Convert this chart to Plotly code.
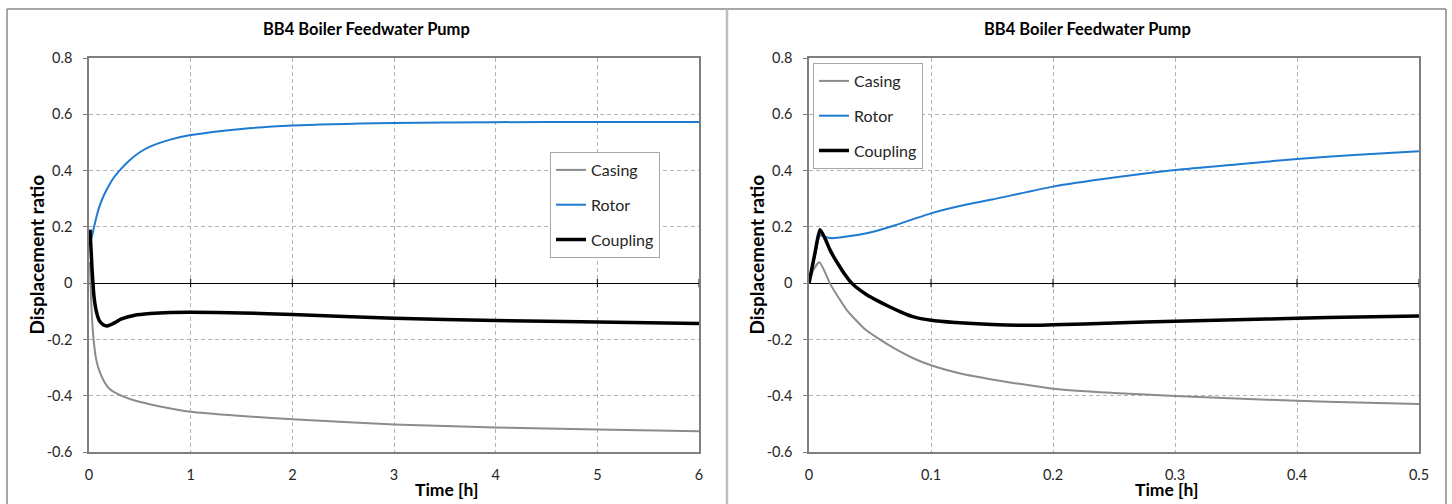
import plotly.graph_objects as go

# ---------------- data ----------------
# Left panel: 0-6 h
casing_L_t = [0.01, 0.02, 0.04, 0.07, 0.1, 0.15, 0.2, 0.3, 0.45, 0.7, 1.0, 1.5, 2.0, 3.0, 4.0, 5.0, 6.0]
casing_L_y = [0.075, -0.05, -0.18, -0.27, -0.31, -0.35, -0.375, -0.397, -0.417, -0.438, -0.457, -0.472, -0.484, -0.502, -0.513, -0.52, -0.526]

rotor_L_t = [0.025, 0.05, 0.08, 0.11, 0.15, 0.2, 0.25, 0.3, 0.4, 0.5, 0.6, 0.8, 1.0, 1.5, 2.0, 3.0, 4.0, 5.0, 6.0]
rotor_L_y = [0.16, 0.2, 0.245, 0.28, 0.315, 0.35, 0.378, 0.40, 0.437, 0.465, 0.485, 0.51, 0.526, 0.548, 0.56, 0.569, 0.572, 0.573, 0.573]

coupling_L_t = [0.01, 0.03, 0.05, 0.075, 0.1, 0.14, 0.18, 0.24, 0.32, 0.45, 0.6, 0.8, 1.0, 1.5, 2.0, 3.0, 4.0, 5.0, 6.0]
coupling_L_y = [0.19, 0.05, -0.05, -0.105, -0.132, -0.148, -0.152, -0.143, -0.127, -0.114, -0.108, -0.104, -0.103, -0.106, -0.111, -0.125, -0.133, -0.138, -0.143]

# Right panel: 0-0.5 h
casing_R_t = [0, 0.004, 0.0085, 0.013, 0.017, 0.024, 0.031, 0.045, 0.058, 0.07, 0.085, 0.1, 0.125, 0.15, 0.2, 0.25, 0.3, 0.35, 0.4, 0.45, 0.5]
casing_R_y = [0, 0.05, 0.074, 0.04, 0.0, -0.05, -0.096, -0.16, -0.2, -0.232, -0.266, -0.292, -0.322, -0.342, -0.375, -0.39, -0.401, -0.41, -0.418, -0.424, -0.429]

rotor_R_t = [0, 0.005, 0.009, 0.013, 0.018, 0.025, 0.035, 0.05, 0.07, 0.1, 0.13, 0.15, 0.2, 0.25, 0.3, 0.35, 0.4, 0.45, 0.5]
rotor_R_y = [0, 0.1, 0.17, 0.165, 0.16, 0.162, 0.168, 0.18, 0.205, 0.248, 0.28, 0.297, 0.343, 0.375, 0.402, 0.422, 0.441, 0.456, 0.469]

coupling_R_t = [0, 0.005, 0.009, 0.013, 0.017, 0.021, 0.025, 0.029, 0.033, 0.038, 0.047, 0.056, 0.066, 0.075, 0.085, 0.1, 0.12, 0.15, 0.18, 0.2, 0.25, 0.3, 0.35, 0.4, 0.45, 0.5]
coupling_R_y = [0, 0.11, 0.19, 0.16, 0.12, 0.088, 0.06, 0.033, 0.01, -0.012, -0.04, -0.062, -0.084, -0.102, -0.119, -0.132, -0.14, -0.147, -0.15, -0.148, -0.142, -0.135, -0.13, -0.125, -0.12, -0.117]

series_names = ["Casing", "Rotor", "Coupling"]

y_tickvals = [-0.6, -0.4, -0.2, 0, 0.2, 0.4, 0.6, 0.8]
y_ticktext = ["-0.6", "-0.4", "-0.2", "0", "0.2", "0.4", "0.6", "0.8"]
xL_tickvals = [0, 1, 2, 3, 4, 5, 6]
xL_ticktext = ["0", "1", "2", "3", "4", "5", "6"]
xR_tickvals = [0, 0.1, 0.2, 0.3, 0.4, 0.5]
xR_ticktext = ["0", "0.1", "0.2", "0.3", "0.4", "0.5"]

title_text = "BB4 Boiler Feedwater Pump"
x_title = "Time [h]"
y_title = "Displacement ratio"

# ---------------- styling ----------------
W, H = 1452, 504
FONT = "Lato"
colors = {"Casing": "#8c8c8c", "Rotor": "#1f7bd1", "Coupling": "#000000"}
widths = {"Casing": 2, "Rotor": 2, "Coupling": 3.5}


def px_x(p):
    return p / W


def px_y(p):
    return (H - p) / H


fig = go.Figure()

left_data = [(casing_L_t, casing_L_y), (rotor_L_t, rotor_L_y), (coupling_L_t, coupling_L_y)]
right_data = [(casing_R_t, casing_R_y), (rotor_R_t, rotor_R_y), (coupling_R_t, coupling_R_y)]

for name, (t, y) in zip(series_names, left_data):
    fig.add_trace(go.Scatter(x=t, y=y, mode="lines", name=name, xaxis="x", yaxis="y",
                             line=dict(color=colors[name], width=widths[name], shape="spline", smoothing=0.6),
                             legend="legend", legendgroup="L" + name))
for name, (t, y) in zip(series_names, right_data):
    fig.add_trace(go.Scatter(x=t, y=y, mode="lines", name=name, xaxis="x2", yaxis="y2",
                             line=dict(color=colors[name], width=widths[name], shape="spline", smoothing=0.6),
                             legend="legend2", legendgroup="R" + name))

# small cross tick marks on the zero line
fig.add_trace(go.Scatter(x=xL_tickvals[1:], y=[0] * (len(xL_tickvals) - 1), mode="markers", xaxis="x", yaxis="y",
                         marker=dict(symbol="line-ns", size=6, line=dict(color="#000000", width=1)),
                         showlegend=False, hoverinfo="skip"))
fig.add_trace(go.Scatter(x=xR_tickvals[1:], y=[0] * (len(xR_tickvals) - 1), mode="markers", xaxis="x2", yaxis="y2",
                         marker=dict(symbol="line-ns", size=6, line=dict(color="#000000", width=1)),
                         showlegend=False, hoverinfo="skip"))

ydom = [px_y(452), px_y(58)]
axis_common = dict(showline=True, mirror=True, linecolor="#7f7f7f", linewidth=1.5,
                   showgrid=True, gridcolor="#b3b3b3", griddash="4px,3px", gridwidth=1,
                   tickfont=dict(family=FONT, size=14.5, color="#262626"), automargin=False)

fig.update_layout(
    width=W, height=H,
    margin=dict(l=0, r=0, t=0, b=0),
    paper_bgcolor="white", plot_bgcolor="white",
    font=dict(family=FONT, color="#000000"),
    xaxis=dict(domain=[px_x(89), px_x(699)], range=[0, 6], tickvals=xL_tickvals, ticktext=xL_ticktext,
               zeroline=False, ticks="", ticklabelstandoff=9, anchor="y", **axis_common),
    yaxis=dict(domain=ydom, range=[-0.6, 0.8], tickvals=y_tickvals, ticktext=y_ticktext,
               zeroline=True, zerolinecolor="#000000", zerolinewidth=1,
               ticks="outside", ticklen=4, tickcolor="#7f7f7f", ticklabelstandoff=8, anchor="x", **axis_common),
    xaxis2=dict(domain=[px_x(809), px_x(1419)], range=[0, 0.5], tickvals=xR_tickvals, ticktext=xR_ticktext,
                zeroline=False, ticks="", ticklabelstandoff=9, anchor="y2", **axis_common),
    yaxis2=dict(domain=ydom, range=[-0.6, 0.8], tickvals=y_tickvals, ticktext=y_ticktext,
                zeroline=True, zerolinecolor="#000000", zerolinewidth=1,
                ticks="outside", ticklen=4, tickcolor="#7f7f7f", ticklabelstandoff=8, anchor="x2", **axis_common),
    legend=dict(x=px_x(550), y=px_y(152), xanchor="left", yanchor="top",
                bordercolor="#a6a6a6", borderwidth=1, bgcolor="white",
                font=dict(family=FONT, size=16, color="#262626"), tracegroupgap=11, traceorder="grouped"),
    legend2=dict(x=px_x(813), y=px_y(63), xanchor="left", yanchor="top",
                 bordercolor="#a6a6a6", borderwidth=1, bgcolor="white",
                 font=dict(family=FONT, size=16, color="#262626"), tracegroupgap=11, traceorder="grouped"),
)

annotations = []
for cx in (367, 1087):
    annotations.append(dict(text="<b>%s</b>" % title_text, x=px_x(cx), y=px_y(29), xref="paper", yref="paper",
                            showarrow=False, xanchor="center", yanchor="middle",
                            font=dict(family=FONT, size=16.5, color="#000000")))
for cx in (447, 1166):
    annotations.append(dict(text="<b>%s</b>" % x_title, x=px_x(cx), y=px_y(489), xref="paper", yref="paper",
                            showarrow=False, xanchor="center", yanchor="middle",
                            font=dict(family=FONT, size=17.5, color="#000000")))
for cx in (35.5, 755.5):
    annotations.append(dict(text="<b>%s</b>" % y_title, x=px_x(cx), y=px_y(255), xref="paper", yref="paper",
                            showarrow=False, xanchor="center", yanchor="middle", textangle=-90,
                            font=dict(family=FONT, size=19, color="#000000")))
fig.update_layout(annotations=annotations)

shapes = [
    dict(type="line", xref="paper", yref="paper", x0=px_x(7), x1=px_x(1446), y0=px_y(9), y1=px_y(9),
         line=dict(color="#8a8a8a", width=1.5)),
    dict(type="line", xref="paper", yref="paper", x0=px_x(7), x1=px_x(7), y0=px_y(9), y1=px_y(504),
         line=dict(color="#8a8a8a", width=1.5)),
    dict(type="line", xref="paper", yref="paper", x0=px_x(727), x1=px_x(727), y0=px_y(9), y1=px_y(504),
         line=dict(color="#bdbdbd", width=2.5)),
    dict(type="line", xref="paper", yref="paper", x0=px_x(1446), x1=px_x(1446), y0=px_y(9), y1=px_y(504),
         line=dict(color="#8a8a8a", width=1.5)),
]
fig.update_layout(shapes=shapes)

fig.write_html("out.html", config={"displayModeBar": False},
               post_script="document.body.style.margin='0';document.body.style.overflow='hidden';")
